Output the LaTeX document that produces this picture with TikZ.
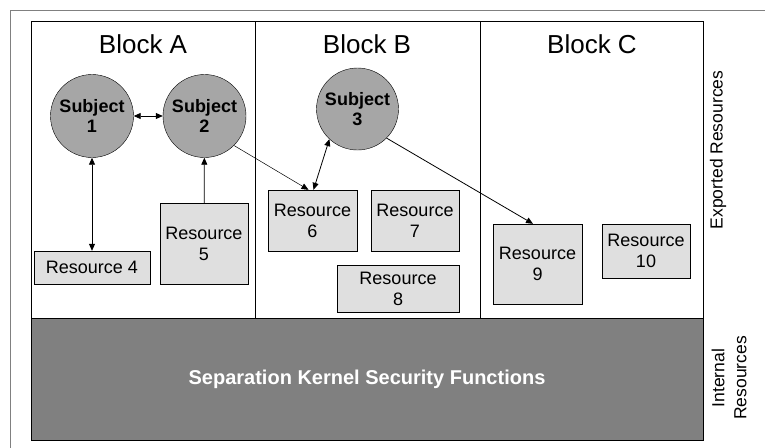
\documentclass[tikz,border=0pt]{standalone}
\usepackage{fontspec}
\setmainfont{Liberation Sans}
\usetikzlibrary{arrows.meta}

\begin{document}
\begin{tikzpicture}[x=1pt,y=-1pt,>={Triangle[length=7pt,width=6pt]},
    subj/.style={circle,draw,fill=gray!70,minimum size=83pt,inner sep=0pt,align=center,
        font=\fontsize{18}{20}\selectfont\bfseries},
    res/.style={draw,fill=gray!25,inner sep=0pt,align=center,
        font=\fontsize{18}{21}\selectfont},
    blk/.style={anchor=base,font=\fontsize{26}{30}\selectfont},
    side/.style={rotate=90,align=center,font=\fontsize{17.5}{22}\selectfont}]

    \useasboundingbox (0,0) rectangle (765,447);
    \draw[gray,line width=1pt] (10,10) rectangle (790,470);

    % blocks and kernel
    \draw[line width=0.8pt] (31,21) rectangle (703,318);
    \draw[line width=0.8pt] (255,21) -- (255,318);
    \draw[line width=0.8pt] (480,21) -- (480,318);
    \node[draw,line width=0.8pt,fill=gray,minimum width=672pt,minimum height=122pt,
        text=white,font=\fontsize{20}{24}\selectfont\bfseries] (kern) at (367,379)
        {Separation Kernel Security Functions};

    \node[blk] (ba) at (143,53) {Block A};
    \node[blk] (bb) at (367,53) {Block B};
    \node[blk] (bc) at (592,53) {Block C};

    % subjects
    \node[subj] (s1) at (92,116) {Subject\\1};
    \node[subj] (s2) at (204.5,116) {Subject\\2};
    \node[subj,minimum size=82pt] (s3) at (357.5,109) {Subject\\3};

    % resources
    \node[res,minimum width=116pt,minimum height=33pt] (r4) at (92,267.5) {Resource 4};
    \node[res,minimum width=88pt,minimum height=81pt] (r5) at (204,243.5) {Resource\\5};
    \node[res,minimum width=89pt,minimum height=61pt] (r6) at (312.5,220.5) {Resource\\6};
    \node[res,minimum width=88pt,minimum height=61pt] (r7) at (415,220.5) {Resource\\7};
    \node[res,minimum width=122pt,minimum height=47pt] (r8) at (398,288.5) {Resource\\8};
    \node[res,minimum width=89pt,minimum height=80pt] (r9) at (537.5,264) {Resource\\9};
    \node[res,minimum width=88pt,minimum height=54pt] (r10) at (646,251) {Resource\\10};

    \node[side] (exp) at (718,150) {Exported Resources};
    \node[side] (int) at (729,378) {Internal\\Resources};

    % access arrows
    \draw [<->,line width=0.8pt] (s1) -- (s2);
    \draw [<->,line width=0.8pt] (s1) -- (r4);
    \draw [->,line width=0.8pt] (r5) -- (s2);
    \draw [->,line width=0.5pt] (s2.-45) -- ([xshift=-4pt]r6.north);
    \draw [<->,line width=0.8pt] (s3.-133) -- ([xshift=1pt]r6.north);
    \draw [->,line width=0.8pt] (s3.-45) -- ([xshift=-4.5pt]r9.north);
\end{tikzpicture}
\end{document}
